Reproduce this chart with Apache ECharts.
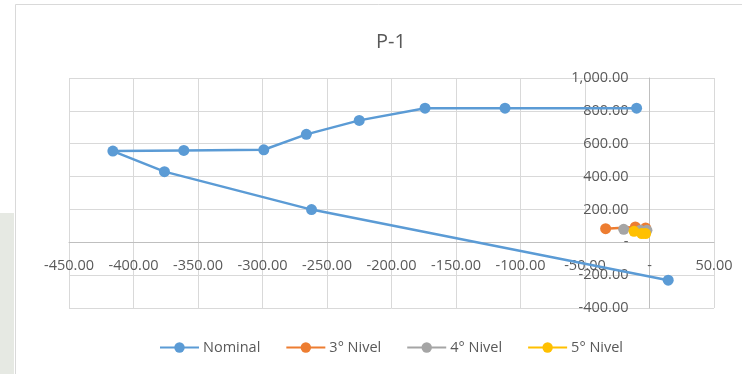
<!DOCTYPE html>
<html>
<head>
<meta charset="utf-8">
<script src="https://cdn.jsdelivr.net/npm/echarts@6/dist/echarts.min.js"></script>
<style>
  html, body { margin: 0; padding: 0; background: #ffffff; }
  #chart { width: 742px; height: 374px; }
</style>
</head>
<body>
<div id="chart"></div>
<script>
// P-1 profile: horizontal offset (x) against elevation (y)
const seriesNames = ['Nominal', '3° Nivel', '4° Nivel', '5° Nivel'];

const nominalX = [-10, -112, -174, -225, -266, -299, -361, -416, -376, -262, 14.5];
const nominalY = [816, 816, 816, 742, 657, 563, 559, 555, 430, 199, -231];

const nivel3X = [-34, -11, -3];
const nivel3Y = [83, 93, 87];

const nivel4X = [-20, -7, -2];
const nivel4Y = [79, 73, 73];

const nivel5X = [-12, -6, -3];
const nivel5Y = [67, 53, 53];

const xTicks = { min: -450, max: 50, step: 50 };
const yTicks = { min: -400, max: 1000, step: 200 };

const colors = ['#5b9bd5', '#ed7d31', '#a5a5a5', '#ffc000'];
const textColor = '#595959';
const fontFamily = '"Open Sans", "Noto Sans", sans-serif';

// plot area box (px)
const gridBox = { left: 69, right: 28, top: 78, bottom: 66 };
const W = 742, H = 374;
const plotW = W - gridBox.left - gridBox.right;
const plotH = H - gridBox.top - gridBox.bottom;

// axes cross at the origin: shift each axis from its edge to the zero line
const xAxisShift = -plotH * (0 - yTicks.min) / (yTicks.max - yTicks.min);
const yAxisShift = -plotW * (0 - xTicks.min) / (xTicks.max - xTicks.min);

function pairs(xs, ys) {
  return xs.map((x, i) => [x, ys[i]]);
}

function fmt(v) {
  if (v === 0) return '-';
  return v.toLocaleString('en-US', { minimumFractionDigits: 2, maximumFractionDigits: 2 });
}

const seriesData = [
  pairs(nominalX, nominalY),
  pairs(nivel3X, nivel3Y),
  pairs(nivel4X, nivel4Y),
  pairs(nivel5X, nivel5Y)
];

const chart = echarts.init(document.getElementById('chart'), null, { renderer: 'canvas' });

chart.setOption({
  animation: false,
  backgroundColor: '#ffffff',
  color: colors,
  graphic: [
    { type: 'rect', shape: { x: 0, y: 213, width: 14, height: 161 }, style: { fill: '#e6e9e3' }, silent: true },
    { type: 'line', shape: { x1: 15.5, y1: 4.5, x2: 15.5, y2: 374 }, style: { stroke: '#d9d9d9', lineWidth: 1 }, silent: true },
    { type: 'line', shape: { x1: 15.5, y1: 4.5, x2: 742, y2: 4.5 }, style: { stroke: '#d9d9d9', lineWidth: 1 }, silent: true }
  ],
  title: {
    text: 'P-1',
    left: 386,
    top: 27,
    textAlign: 'center',
    textStyle: { color: textColor, fontSize: 20, fontWeight: 'normal', fontFamily: fontFamily }
  },
  legend: {
    left: 159,
    top: 340,
    padding: 0,
    itemWidth: 39,
    itemHeight: 13,
    itemGap: 25,
    textStyle: { color: textColor, fontSize: 14.5, fontFamily: fontFamily, padding: [0, 0, 0, -1] },
    data: seriesNames
  },
  grid: { left: gridBox.left, right: gridBox.right, top: gridBox.top, bottom: gridBox.bottom, containLabel: false },
  xAxis: {
    type: 'value',
    position: 'bottom',
    offset: xAxisShift,
    min: xTicks.min,
    max: xTicks.max,
    interval: xTicks.step,
    axisLine: { show: true, onZero: false, lineStyle: { color: '#bfbfbf', width: 1 } },
    axisTick: { show: false },
    axisLabel: {
      color: textColor, fontSize: 14.5, fontFamily: fontFamily, margin: 16,
      showMinLabel: true, showMaxLabel: true, formatter: fmt
    },
    splitLine: { show: true, lineStyle: { color: '#d9d9d9', width: 1 } }
  },
  yAxis: {
    type: 'value',
    position: 'left',
    offset: yAxisShift,
    min: yTicks.min,
    max: yTicks.max,
    interval: yTicks.step,
    axisLine: { show: true, onZero: false, lineStyle: { color: '#bfbfbf', width: 1 } },
    axisTick: { show: false },
    axisLabel: {
      color: textColor, fontSize: 14.5, fontFamily: fontFamily, margin: 21,
      showMinLabel: true, showMaxLabel: true, formatter: fmt
    },
    splitLine: { show: true, lineStyle: { color: '#d9d9d9', width: 1 } }
  },
  series: seriesNames.map((name, i) => ({
    name: name,
    type: 'line',
    data: seriesData[i],
    symbol: 'circle',
    symbolSize: 11,
    showSymbol: true,
    lineStyle: { width: 2.5, color: colors[i] },
    itemStyle: { color: colors[i] },
    z: 2 + i
  }))
});
</script>
</body>
</html>
